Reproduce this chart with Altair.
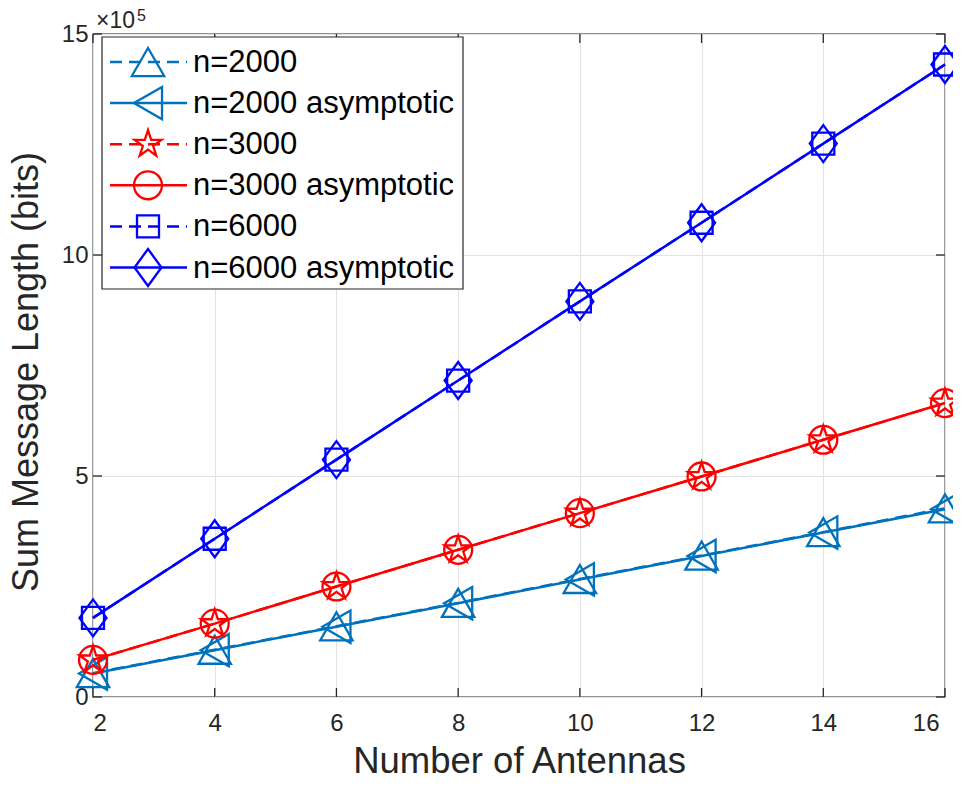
import altair as alt
import pandas as pd

# ---- data ----
antennas = [2, 4, 6, 8, 10, 12, 14, 16]
n2000 = [54000, 107000, 160000, 213000, 267000, 320000, 373000, 427000]
n2000_asym = [53000, 106000, 159000, 212000, 266000, 319000, 372000, 425000]
n3000 = [84000, 166000, 250000, 333000, 416000, 499000, 582000, 665000]
n3000_asym = [84000, 166000, 250000, 333000, 416000, 499000, 582000, 665000]
n6000 = [179000, 358000, 537000, 716000, 895000, 1073000, 1252000, 1431000]
n6000_asym = [179000, 358000, 537000, 716000, 895000, 1073000, 1252000, 1431000]

series_names = ["n=2000", "n=2000 asymptotic", "n=3000", "n=3000 asymptotic",
                "n=6000", "n=6000 asymptotic"]
series_values = [n2000, n2000_asym, n3000, n3000_asym, n6000, n6000_asym]

x_ticks = [2, 4, 6, 8, 10, 12, 14, 16]
y_ticks = [0, 500000, 1000000, 1500000]

# ---- styles ----
C1, C2, C3 = "#0072BD", "#FF0000", "#0000FF"
colors = [C1, C1, C2, C2, C3, C3]
STAR = ("M0,-1L0.225,-0.309L0.951,-0.309L0.363,0.118L0.588,0.809L0,0.382"
        "L-0.588,0.809L-0.363,0.118L-0.951,-0.309L-0.225,-0.309Z")
DIAMOND = "M0,-1L0.73,0L0,1L-0.73,0Z"
shapes = ["triangle-up", "triangle-left", STAR, "circle", "square", DIAMOND]
sizes = [1050, 1050, 800, 780, 484, 1369]
DASH = [12, 7]
dashed = [True, False, True, False, True, False]

W, H = 852, 663
FONT = "Liberation Sans"
AX = "#262626"

rows = []
for name, vals in zip(series_names, series_values):
    for a, v in zip(antennas, vals):
        rows.append({"x": a, "y": v, "series": name})
df = pd.DataFrame(rows)

xscale = alt.Scale(domain=[2, 16], nice=False, zero=False)
yscale = alt.Scale(domain=[0, 1500000], nice=False)
XT = "Number of Antennas"
YT = "Sum Message Length (bits)"

x_enc = alt.X("x:Q", scale=xscale, title=XT,
              axis=alt.Axis(values=x_ticks, format="d", labelPadding=14, titleX=W / 2, titleY=75,
                            titleBaseline="alphabetic", titleAlign="center", titleFontSize=36.5,
                            labelOffset={"condition": {"test": "datum.value == 16", "value": -6},
                                         "value": 0}))
y_enc = alt.Y("y:Q", scale=yscale, title=YT,
              axis=alt.Axis(values=y_ticks, labelExpr="format(datum.value/100000, 'd')",
                            labelPadding=5, titleX=-56, titleY=H / 2 + 6,
                            titleBaseline="alphabetic", titleAlign="center", titleAngle=-90,
                            titleFontSize=36))

data_layers = []
for name, c, shp, sz, dsh in zip(series_names, colors, shapes, sizes, dashed):
    base = alt.Chart(df).transform_filter(alt.datum.series == name)
    if dsh:
        ln = base.mark_line(strokeWidth=2.5, color=c, strokeDash=DASH)
    else:
        ln = base.mark_line(strokeWidth=2.5, color=c)
    data_layers.append(ln.encode(x=x_enc, y=y_enc))
    data_layers.append(
        base.mark_point(shape=shp, size=sz, filled=False, strokeWidth=2.3, color=c, opacity=1)
        .encode(x=x_enc, y=y_enc))

# inward ticks on all four sides
xt_df = pd.DataFrame({"x": x_ticks})
yt_df = pd.DataFrame({"y": y_ticks})
TL = 9
tick_layers = [
    alt.Chart(xt_df).mark_rule(color=AX, strokeWidth=1.3).encode(
        x=alt.X("x:Q", scale=xscale, title=XT), y=alt.value(H), y2=alt.value(H - TL)),
    alt.Chart(xt_df).mark_rule(color=AX, strokeWidth=1.3).encode(
        x=alt.X("x:Q", scale=xscale, title=XT), y=alt.value(0), y2=alt.value(TL)),
    alt.Chart(yt_df).mark_rule(color=AX, strokeWidth=1.3).encode(
        y=alt.Y("y:Q", scale=yscale, title=YT), x=alt.value(0), x2=alt.value(TL)),
    alt.Chart(yt_df).mark_rule(color=AX, strokeWidth=1.3).encode(
        y=alt.Y("y:Q", scale=yscale, title=YT), x=alt.value(W - TL), x2=alt.value(W)),
]

# exponent label
exp_df = pd.DataFrame({"t": ["×10"], "e": ["5"]})
exp_layers = [
    alt.Chart(exp_df).mark_text(align="left", baseline="alphabetic", font=FONT, fontSize=23,
                                color=AX).encode(x=alt.value(3), y=alt.value(-6), text="t:N"),
    alt.Chart(exp_df).mark_text(align="left", baseline="alphabetic", font=FONT, fontSize=16,
                                color=AX).encode(x=alt.value(44), y=alt.value(-13), text="e:N"),
]

# legend (drawn manually, MATLAB style)
box_df = pd.DataFrame({"a": [1]})
legend_layers = [
    alt.Chart(box_df).mark_rect(fill="white", stroke=AX, strokeWidth=1.2).encode(
        x=alt.value(9), x2=alt.value(370), y=alt.value(3), y2=alt.value(255))
]
for i, (name, c, shp, sz, dsh) in enumerate(zip(series_names, colors, shapes, sizes, dashed)):
    ly = 28 + 41.1 * i
    ldf = pd.DataFrame({"series": [name]})
    if dsh:
        rule = alt.Chart(ldf).mark_rule(color=c, strokeWidth=2.5, strokeDash=DASH)
    else:
        rule = alt.Chart(ldf).mark_rule(color=c, strokeWidth=2.5)
    legend_layers.append(rule.encode(x=alt.value(17), x2=alt.value(94), y=alt.value(ly)))
    legend_layers.append(
        alt.Chart(ldf).mark_point(shape=shp, size=sz, filled=False, strokeWidth=2.3,
                                  color=c, opacity=1).encode(x=alt.value(55), y=alt.value(ly)))
    legend_layers.append(
        alt.Chart(ldf).mark_text(align="left", baseline="middle", font=FONT, fontSize=31,
                                 color="black").encode(x=alt.value(100), y=alt.value(ly + 1),
                                                       text="series:N"))

chart = alt.layer(*data_layers, *tick_layers, *exp_layers, *legend_layers).properties(
    width=W, height=H,
    autosize=alt.AutoSizeParams(type="none"),
    padding={"left": 85, "top": 26, "right": 8, "bottom": 76},
).configure_view(
    stroke=AX, strokeWidth=1.3
).configure_axis(
    labelFont=FONT, titleFont=FONT, labelColor=AX, titleColor=AX,
    labelFontSize=24, titleFontSize=36, titleFontWeight="normal",
    gridColor="#E3E3E3", gridWidth=1, domain=False, ticks=False,
)

chart.save("out.html", embed_options={"renderer": "svg", "actions": False})
